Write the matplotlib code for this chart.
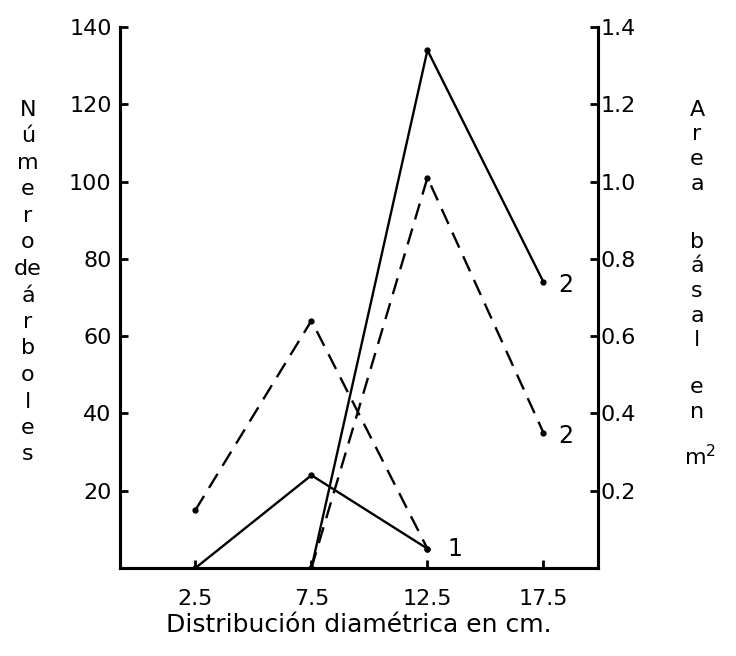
import matplotlib
matplotlib.use('Agg')
import matplotlib.pyplot as plt

# diameter classes (cm)
diam = [2.5, 7.5, 12.5, 17.5]
xtick_labels = ['2.5', '7.5', '12.5', '17.5']

# series 1 (solid = numero de arboles, dashed = area basal m2)
x1 = [2.5, 7.5, 12.5]
arboles_1 = [0, 24, 5]
area_1 = [0.15, 0.64, 0.05]

# series 2
x2 = [7.5, 12.5, 17.5]
arboles_2 = [0, 134, 74]
area_2 = [0, 1.01, 0.35]

left_ticks = [20, 40, 60, 80, 100, 120, 140]
right_ticks = [0.2, 0.4, 0.6, 0.8, 1.0, 1.2, 1.4]

left_label = ['N', 'ú', 'm', 'e', 'r', 'o', 'de', 'á', 'r', 'b', 'o', 'l', 'e', 's']
right_label = ['Area', 'básal', 'en', 'm$^{2}$']

plt.rcParams['font.family'] = ['DejaVu Sans']

W, H = 736, 656
fig = plt.figure(figsize=(W / 100, H / 100), dpi=100)
ax = fig.add_axes([120 / W, 1 - 568 / H, (598 - 120) / W, (568 - 27) / H])
ax2 = ax.twinx()

lw = 1.7
ax.plot(x1, arboles_1, color='black', lw=lw, marker='o', ms=3.5)
ax.plot(x2, arboles_2, color='black', lw=lw, marker='o', ms=3.5)
ax2.plot(x1, area_1, color='black', lw=lw, ls='--', dashes=(7, 4), marker='o', ms=3.5)
ax2.plot(x2, area_2, color='black', lw=lw, ls='--', dashes=(7, 4), marker='o', ms=3.5)

ax.set_xlim(-0.75, 19.85)
ax.set_ylim(0, 140)
ax2.set_ylim(0, 1.4)

ax.set_xticks(diam)
ax.set_xticklabels(xtick_labels)
ax.set_yticks(left_ticks)
ax2.set_yticks(right_ticks)
ax2.set_yticklabels([('%.1f' % v) for v in right_ticks])

for a in (ax, ax2):
    a.spines['top'].set_visible(False)
    for s in ('left', 'right', 'bottom'):
        a.spines[s].set_linewidth(2.2)
ax.tick_params(axis='both', direction='in', length=6, width=2, labelsize=16)
ax.tick_params(axis='x', pad=15)
ax.tick_params(axis='y', pad=6)
ax2.tick_params(axis='y', direction='in', length=6, width=2, labelsize=16, pad=2)

# series numbers at line ends
ax.annotate('1', (x1[-1], arboles_1[-1]), xytext=(20, 0), textcoords='offset points',
            ha='center', va='center', fontsize=17)
ax.annotate('2', (x2[-1], arboles_2[-1]), xytext=(16, -2), textcoords='offset points',
            ha='center', va='center', fontsize=17)
ax2.annotate('2', (x2[-1], area_2[-1]), xytext=(16, -2), textcoords='offset points',
             ha='center', va='center', fontsize=17)

ax.set_xlabel('Distribución diamétrica en cm.', fontsize=18, labelpad=3)

# stacked axis titles
for i, ch in enumerate(left_label):
    fig.text(28 / W, 1 - (110 + i * 26.5) / H, ch, ha='center', va='center', fontsize=16)

word_tops = [110, 242, 387, 457]
for word, top in zip(right_label, word_tops):
    if word.startswith('m$'):
        fig.text(700 / W, 1 - top / H, word, ha='center', va='center', fontsize=16)
        continue
    for j, ch in enumerate(word):
        fig.text(697 / W, 1 - (top + j * 24.5) / H, ch, ha='center', va='center', fontsize=16)

fig.savefig('out.png', dpi=100)
